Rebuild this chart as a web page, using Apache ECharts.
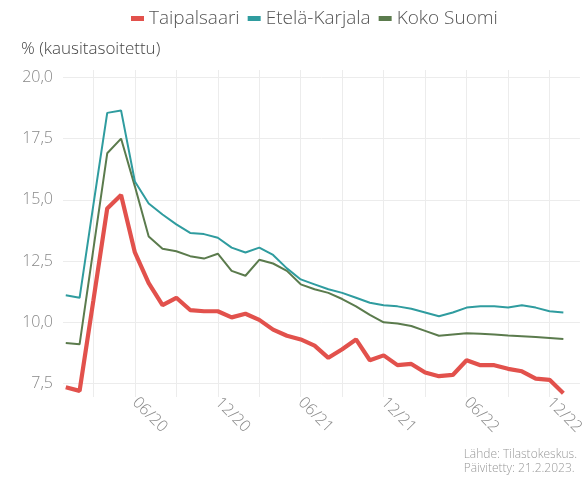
<!DOCTYPE html>
<html>
<head>
<meta charset="utf-8">
<script src="https://cdn.jsdelivr.net/npm/echarts@6/dist/echarts.min.js"></script>
<style>
  html, body { margin: 0; padding: 0; background: #fff; }
  #chart { width: 587px; height: 478px; }
</style>
</head>
<body>
<div id="chart"></div>
<script>
// kuukaudet 01/20 - 01/23
const months = [
  '01/20', '02/20', '03/20', '04/20', '05/20', '06/20', '07/20', '08/20', '09/20', '10/20', '11/20', '12/20',
  '01/21', '02/21', '03/21', '04/21', '05/21', '06/21', '07/21', '08/21', '09/21', '10/21', '11/21', '12/21',
  '01/22', '02/22', '03/22', '04/22', '05/22', '06/22', '07/22', '08/22', '09/22', '10/22', '11/22', '12/22',
  '01/23'
]

const taipalsaari = [
  7.35, 7.2, 10.9, 14.65, 15.2, 12.85, 11.6, 10.7, 11.0, 10.5, 10.45, 10.45,
  10.2, 10.35, 10.1, 9.7, 9.45, 9.3, 9.05, 8.55, 8.9, 9.3, 8.45, 8.65,
  8.25, 8.3, 7.95, 7.8, 7.85, 8.45, 8.25, 8.25, 8.1, 8.0, 7.7, 7.65,
  7.1
]

const etelaKarjala = [
  11.1, 11.0, 14.8, 18.55, 18.65, 15.75, 14.85, 14.4, 14.0, 13.65, 13.6, 13.45,
  13.05, 12.85, 13.05, 12.75, 12.2, 11.75, 11.55, 11.35, 11.2, 11.0, 10.8, 10.7,
  10.65, 10.55, 10.4, 10.25, 10.4, 10.6, 10.65, 10.65, 10.6, 10.7, 10.6, 10.45,
  10.4
]

const kokoSuomi = [
  9.15, 9.1, 13.0, 16.9, 17.5, 15.55, 13.5, 13.0, 12.9, 12.7, 12.6, 12.8,
  12.1, 11.9, 12.55, 12.4, 12.1, 11.55, 11.35, 11.2, 10.95, 10.65, 10.3, 10.0,
  9.95, 9.85, 9.65, 9.45, 9.5, 9.55, 9.53, 9.5, 9.46, 9.43, 9.4, 9.36,
  9.32
]

const xTickLabels = ['06/20', '12/20', '06/21', '12/21', '06/22', '12/22']
const yTicks = [7.5, 10, 12.5, 15, 17.5, 20]

// pystyruudukko neljännesvuosittain, otsikot puolivuosittain
const gridMonthIdx = months
  .map((m, i) => (['03', '06', '09', '12'].includes(m.slice(0, 2)) ? i : -1))
  .filter((i) => i >= 0)
const labelMonthIdx = xTickLabels.map((m) => months.indexOf(m))

const toPairs = (values) => values.map((v, i) => [i, v])
const fontFamily = '"Open Sans", Lato, sans-serif'

const chart = echarts.init(document.getElementById('chart'))

chart.setOption({
  backgroundColor: '#ffffff',
  animation: false,
  title: {
    text: '% (kausitasoitettu)',
    left: 16,
    top: 36,
    textStyle: { fontFamily, fontSize: 17, fontWeight: 300, color: '#444' }
  },
  legend: {
    left: 126,
    top: 4,
    icon: 'rect',
    itemWidth: 13,
    itemHeight: 5,
    itemGap: 8,
    textStyle: { fontFamily, fontSize: 19, fontWeight: 300, color: '#555' },
    data: ['Taipalsaari', 'Etelä-Karjala', 'Koko Suomi']
  },
  grid: { left: 63, right: 7, top: 70, bottom: 81 },
  xAxis: {
    type: 'value',
    min: -0.2,
    max: 37.2,
    axisLine: { show: false },
    axisTick: { show: false, customValues: gridMonthIdx },
    splitLine: { show: true, lineStyle: { color: '#ececec', width: 1 } },
    axisLabel: {
      customValues: labelMonthIdx,
      rotate: -45,
      margin: 3,
      fontFamily,
      fontSize: 16,
      fontWeight: 300,
      color: '#888',
      formatter: (v) => months[Math.round(v)]
    }
  },
  yAxis: {
    type: 'value',
    min: 6.95,
    max: 20.3,
    axisLine: { show: false },
    axisTick: { show: false, customValues: yTicks },
    splitLine: { show: true, lineStyle: { color: '#ececec', width: 1 } },
    axisLabel: {
      customValues: yTicks,
      margin: 10,
      fontFamily,
      fontSize: 16,
      fontWeight: 300,
      color: '#888',
      formatter: (v) => v.toFixed(1).replace('.', ',')
    }
  },
  series: [
    {
      name: 'Taipalsaari',
      type: 'line',
      showSymbol: false,
      color: '#e2514c',
      lineStyle: { width: 4.2, color: '#e2514c' },
      z: 4,
      data: toPairs(taipalsaari)
    },
    {
      name: 'Etelä-Karjala',
      type: 'line',
      showSymbol: false,
      color: '#2f9c9f',
      lineStyle: { width: 2, color: '#2f9c9f' },
      z: 3,
      data: toPairs(etelaKarjala)
    },
    {
      name: 'Koko Suomi',
      type: 'line',
      showSymbol: false,
      color: '#5b7b4d',
      lineStyle: { width: 2, color: '#5b7b4d' },
      z: 2,
      data: toPairs(kokoSuomi)
    }
  ],
  graphic: [
    {
      type: 'text',
      right: 10,
      top: 448,
      style: {
        text: 'Lähde: Tilastokeskus.\nPäivitetty: 21.2.2023.',
        align: 'right',
        fill: '#999',
        font: '300 12px ' + fontFamily,
        lineHeight: 14
      }
    }
  ]
})

window.addEventListener('resize', () => chart.resize())
</script>
</body>
</html>
